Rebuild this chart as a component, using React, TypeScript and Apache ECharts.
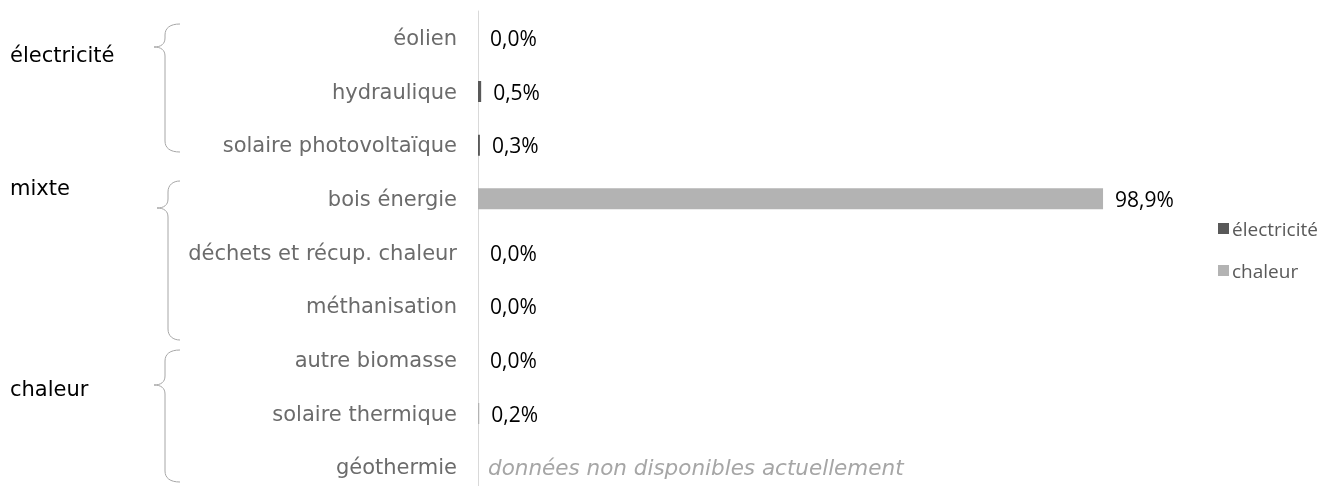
import React, { useEffect, useRef } from "react";
import * as echarts from "echarts";

const categories = [
  "éolien",
  "hydraulique",
  "solaire photovoltaïque",
  "bois énergie",
  "déchets et récup. chaleur",
  "méthanisation",
  "autre biomasse",
  "solaire thermique",
  "géothermie",
];
const electriciteValues: (number | string)[] = [0.0, 0.5, 0.3, "-", "-", "-", "-", "-", "-"];
const chaleurValues: (number | string)[] = ["-", "-", "-", 98.9, 0.0, 0.0, 0.0, 0.2, "note"];
const groupLabels = ["électricité", "mixte", "chaleur"];
const seriesNames = ["électricité", "chaleur"];
const noteText = "données non disponibles actuellement";

const CAT_FONT = "'DejaVu Sans', sans-serif";
const NUM_FONT = "'Open Sans', sans-serif";

function brace(t: number, m: number, b: number, x: number) {
  const tipX = x - 11;
  const endX = 180;
  const stroke = { stroke: "#a6a6a6", lineWidth: 1, fill: "none" };
  return [
    { type: "bezierCurve", shape: { x1: endX, y1: t, cpx1: x + 5, cpy1: t, cpx2: x, cpy2: t + 4, x2: x, y2: t + 11 }, style: stroke },
    { type: "line", shape: { x1: x, y1: t + 11, x2: x, y2: m - 9 }, style: stroke },
    { type: "bezierCurve", shape: { x1: x, y1: m - 9, cpx1: x, cpy1: m - 3, cpx2: x - 4, cpy2: m, x2: tipX, y2: m }, style: stroke },
    { type: "bezierCurve", shape: { x1: tipX, y1: m, cpx1: x - 4, cpy1: m, cpx2: x, cpy2: m + 3, x2: x, y2: m + 9 }, style: stroke },
    { type: "line", shape: { x1: x, y1: m + 9, x2: x, y2: b - 11 }, style: stroke },
    { type: "bezierCurve", shape: { x1: x, y1: b - 11, cpx1: x, cpy1: b - 4, cpx2: x + 5, cpy2: b, x2: endX, y2: b }, style: stroke },
  ];
}

export default function App() {
  const ref = useRef<HTMLDivElement>(null);
  useEffect(() => {
    if (!ref.current) return;
    const chart = echarts.init(ref.current, null, { renderer: "svg" });
    const fmt = (p: any) => {
      const v = typeof p.value === "number" ? p.value : Number(p.value);
      return v.toFixed(1).replace(".", ",") + "%";
    };
    const labelBase = {
      show: true,
      position: "right",
      distance: 12,
      color: "#000",
      fontFamily: NUM_FONT,
      fontSize: 21,
      formatter: fmt,
    };
    const chaleurData = chaleurValues.map((v) =>
      v === "note"
        ? {
            value: 0,
            label: {
              show: true,
              position: "right",
              distance: 10,
              formatter: noteText,
              fontFamily: CAT_FONT,
              fontStyle: "italic",
              fontSize: 21.5,
              color: "#a6a6a6",
            },
          }
        : v
    );
    const groupY = [56, 189, 390];
    chart.setOption({
      animation: false,
      grid: { left: 478, top: 11, width: 632, height: 483 },
      xAxis: { type: "value", min: 0, max: 100, show: false },
      yAxis: {
        type: "category",
        inverse: true,
        data: categories,
        axisLine: { show: true, lineStyle: { color: "#d9d9d9", width: 1 } },
        axisTick: { show: false },
        splitLine: { show: false },
        axisLabel: { color: "#6b6b6b", fontFamily: CAT_FONT, fontSize: 21, margin: 21 },
      },
      legend: {
        orient: "vertical",
        left: 1213,
        top: 214,
        itemWidth: 11,
        itemHeight: 11,
        itemGap: 23,
        icon: "rect",
        textStyle: { color: "#595959", fontFamily: NUM_FONT, fontSize: 19, padding: [0, 0, 0, -2] },
        data: seriesNames,
      },
      series: [
        {
          name: seriesNames[0],
          type: "bar",
          stack: "total",
          barWidth: 21,
          itemStyle: { color: "#595959" },
          label: labelBase,
          data: electriciteValues,
        },
        {
          name: seriesNames[1],
          type: "bar",
          stack: "total",
          barWidth: 21,
          itemStyle: { color: "#b3b3b3" },
          label: labelBase,
          data: chaleurData,
        },
      ],
      graphic: [
        ...groupLabels.map((g, i) => ({
          type: "text",
          left: 10,
          top: groupY[i] - 12,
          style: { text: g, fill: "#000", font: `21px ${CAT_FONT}` },
        })),
        ...brace(24, 47, 152, 165),
        ...brace(181, 208, 340, 168),
        ...brace(350, 385, 482, 165),
      ],
    });
    return () => chart.dispose();
  }, []);
  return (
    <div style={{ position: "fixed", left: 0, top: 0, width: 1324, height: 486, overflow: "hidden" }}>
      <div ref={ref} style={{ width: 1324, height: 500 }} />
    </div>
  );
}
